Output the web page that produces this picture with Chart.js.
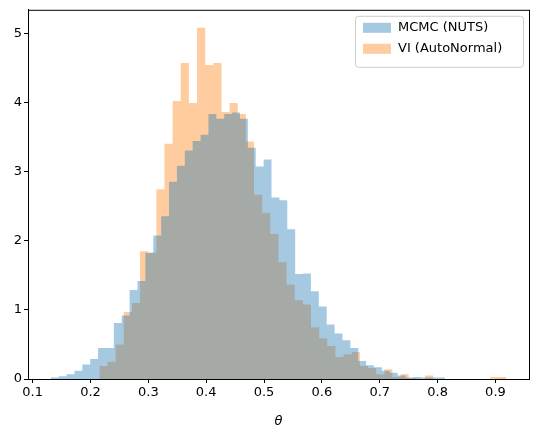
<!DOCTYPE html>
<html><head><meta charset="utf-8">
<script src="https://cdn.jsdelivr.net/npm/chart.js@4"></script>
<style>html,body{margin:0;padding:0;background:#fff}</style>
</head><body>
<canvas id="c" width="534" height="433"></canvas>
<script>
const seriesNames = ["MCMC (NUTS)", "VI (AutoNormal)"];
const mcmcRange = [0.1314, 0.8127];
const mcmcCounts = [0.01,0.02,0.04,0.07,0.12,0.21,0.29,0.45,0.45,0.81,0.92,1.29,1.42,1.83,2.08,2.36,2.86,3.09,3.31,3.45,3.54,3.84,3.77,3.84,3.86,3.77,3.35,3.08,3.18,2.63,2.59,2.17,1.52,1.53,1.27,1.05,0.79,0.66,0.56,0.45,0.26,0.2,0.17,0.12,0.09,0.05,0.02,0.03,0.02,0.02];
const viRange = [0.2153, 0.919];
const viCounts = [0.13,0.19,0.25,0.5,0.97,1.10,1.85,1.83,2.75,3.41,4.03,4.58,4.0,5.09,4.55,4.58,3.87,4.0,3.84,3.44,2.67,2.41,2.1,1.69,1.37,1.14,1.08,0.75,0.59,0.48,0.32,0.36,0.39,0.19,0.16,0.07,0.14,0.03,0.07,0.01,0,0.05,0,0,0,0,0,0,0,0.03];
const xTicks = [0.1,0.2,0.3,0.4,0.5,0.6,0.7,0.8,0.9];
const yTicks = [0,1,2,3,4,5];
const colors = ["rgba(31,119,180,0.4)", "rgba(255,127,14,0.4)"];

function steps(range, counts){
  const w = (range[1]-range[0])/counts.length;
  const pts = [{x:range[0], y:0}];
  counts.forEach((c,i)=>pts.push({x:range[0]+i*w, y:c}));
  pts.push({x:range[1], y:counts[counts.length-1]});
  pts.push({x:range[1], y:0});
  return pts;
}
const F = "DejaVu Sans";
const frame = {id:'frame', afterDatasetsDraw(ch){
  const a=ch.chartArea, c=ch.ctx;
  c.save(); c.strokeStyle='#000'; c.lineWidth=1;
  c.strokeRect(a.left+0.5,a.top+0.5,a.right-a.left,a.bottom-a.top);
  // legend
  const lx=a.right-174, ly=a.top+6, lw=168, lh=51;
  c.fillStyle='rgba(255,255,255,0.8)'; c.strokeStyle='#ccc';
  c.beginPath(); c.roundRect(lx+0.5,ly+0.5,lw,lh,3); c.fill(); c.stroke();
  c.font='13px '+F; c.textBaseline='middle'; c.textAlign='left';
  seriesNames.forEach((n,i)=>{
    const y=ly+12+i*21;
    c.fillStyle=colors[i]; c.fillRect(lx+8,y-5,28,10);
    c.fillStyle='#000'; c.fillText(n,lx+43,y);
  });
  c.restore();
}};
new Chart(document.getElementById('c'),{
  type:'line',
  data:{datasets:[
    {label:seriesNames[0], data:steps(mcmcRange,mcmcCounts), stepped:'after', fill:'origin', backgroundColor:colors[0], borderWidth:0, pointRadius:0},
    {label:seriesNames[1], data:steps(viRange,viCounts), stepped:'after', fill:'origin', backgroundColor:colors[1], borderWidth:0, pointRadius:0}
  ]},
  options:{
    responsive:false, animation:false,
    layout:{padding:{top:8,right:5,left:0,bottom:0}},
    plugins:{legend:{display:false},tooltip:{enabled:false}},
    scales:{
      x:{type:'linear', min:0.092, max:0.958,
        afterBuildTicks(s){s.ticks=xTicks.map(v=>({value:v}));},
        afterFit(s){s.height=54;},
        ticks:{color:'#000', font:{family:F,size:13}, maxRotation:0, padding:2, callback:v=>v.toFixed(1)},
        grid:{drawOnChartArea:false, tickLength:4, color:'#000'},
        border:{display:true,color:'#000'},
        title:{display:true, text:'θ', color:'#000', font:{family:F,size:13,style:'italic'}, padding:{top:2}}
      },
      y:{min:0, max:5.35,
        afterBuildTicks(s){s.ticks=yTicks.map(v=>({value:v}));},
        afterFit(s){s.width=28;},
        ticks:{color:'#000', font:{family:F,size:13}, padding:2},
        grid:{drawOnChartArea:false, tickLength:4, color:'#000'},
        border:{display:true,color:'#000'}
      }
    }
  },
  plugins:[frame]
});
</script>
</body></html>
